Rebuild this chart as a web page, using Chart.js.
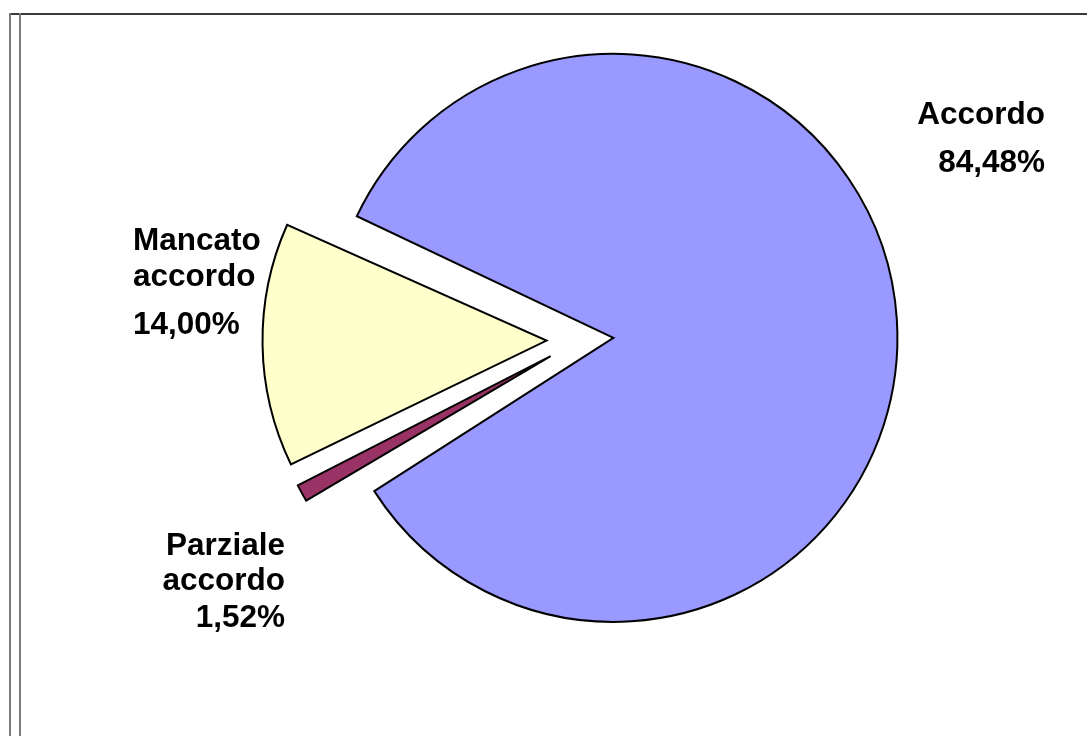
<!DOCTYPE html>
<html>
<head>
<meta charset="utf-8">
<title>Esito</title>
<script src="https://cdn.jsdelivr.net/npm/chart.js@4.4.0/dist/chart.umd.min.js"></script>
<style>
    html, body { margin: 0; padding: 0; background: #fff; }
    #wrap { position: relative; width: 1087px; height: 736px; overflow: hidden; }
    #esitoChart { position: absolute; left: 0; top: 0; }
    .frame-top { position: absolute; left: 9px; right: 0; top: 13px; border-top: 2px solid #3a3a3a; }
    .frame-left { position: absolute; top: 13px; bottom: 0; border-left: 2px solid #7a7a7a; }
</style>
</head>
<body>
<div id="wrap">
    <canvas id="esitoChart" width="1087" height="736"></canvas>
    <div class="frame-top"></div>
    <div class="frame-left" style="left: 9px;"></div>
    <div class="frame-left" style="left: 19px;"></div>
</div>
<script>
// Esito data, in clockwise order
const categories = ['Accordo', 'Parziale accordo', 'Mancato accordo'];
const percentages = [84.48, 1.52, 14.00];
const sliceColors = ['#9999FF', '#993366', '#FFFFCC'];

// Pie geometry
const pieRadius = 284;
const explode = 33.5; // px every slice is pulled away from the centre

// Label placement, relative to the pie centre (baselines of each line)
const labelLayout = [
    { dx: 465, baselines: [-216, -168], align: 'right' },
    { dx: -295, baselines: [215, 250, 287], align: 'right' },
    { dx: -447, baselines: [-90, -54, -6], align: 'left' }
];

const labelFont = "bold 31.5px 'Liberation Sans', Arial, sans-serif";

function formatPercent(v) {
    return v.toFixed(2).replace('.', ',') + '%';
}

const sliceLabels = {
    id: 'sliceLabels',
    afterDatasetUpdate(chart, args) {
        // offset arcs get a bigger radius in Chart.js; keep all slices the same size
        args.meta.data.forEach(function(arc) {
            const fix = 1 - Math.sin(Math.min(Math.PI, arc.circumference));
            arc.outerRadius = pieRadius - explode * fix;
        });
    },
    afterDraw(chart) {
        const arcs = chart.getDatasetMeta(0).data;
        if (!arcs.length) return;
        const cx = arcs[0].x;
        const cy = arcs[0].y;
        const ctx = chart.ctx;
        ctx.save();
        ctx.font = labelFont;
        ctx.fillStyle = '#000';
        ctx.textBaseline = 'alphabetic';
        categories.forEach(function(name, i) {
            const layout = labelLayout[i];
            const lines = name.split(' ').concat(formatPercent(percentages[i]));
            ctx.textAlign = layout.align;
            lines.forEach(function(line, j) {
                ctx.fillText(line, cx + layout.dx, cy + layout.baselines[j]);
            });
        });
        ctx.restore();
    }
};

new Chart(document.getElementById('esitoChart'), {
    type: 'pie',
    data: {
        labels: categories,
        datasets: [{
            data: percentages,
            backgroundColor: sliceColors,
            borderColor: '#000',
            borderWidth: 2,
            borderJoinStyle: 'miter',
            offset: explode * 4
        }]
    },
    options: {
        responsive: false,
        animation: false,
        events: [],
        rotation: -65.7,
        radius: pieRadius,
        layout: {
            padding: { left: 73, right: 0, top: 0, bottom: 56 }
        },
        plugins: {
            legend: { display: false },
            tooltip: { enabled: false }
        }
    },
    plugins: [sliceLabels]
});
</script>
</body>
</html>
